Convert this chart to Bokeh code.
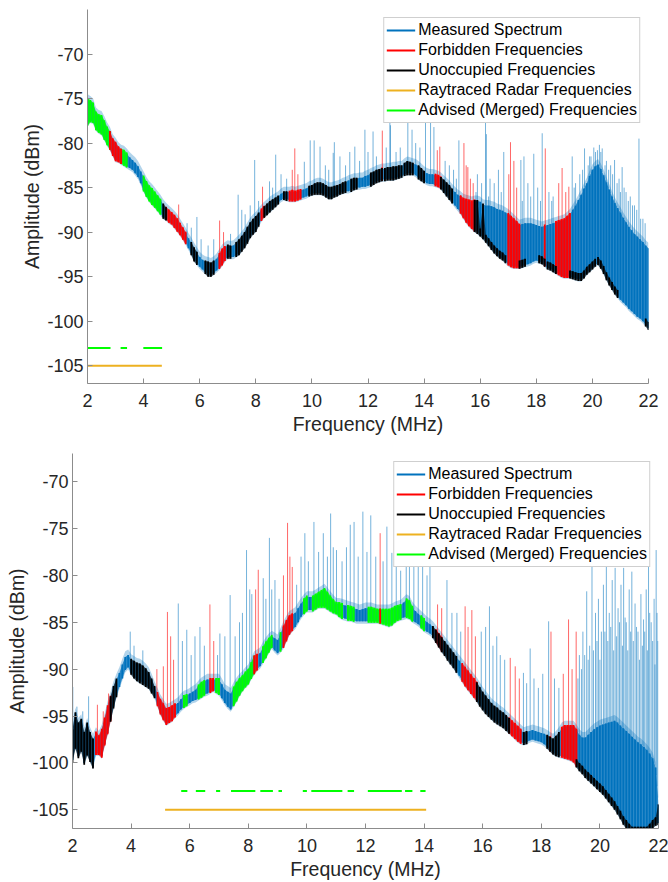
import numpy as np
from bokeh.plotting import figure
from bokeh.models import Range1d, Legend, LegendItem, PrintfTickFormatter
from bokeh.embed import file_html
from bokeh.resources import INLINE

# ---------------- data ----------------
FREQ = [round(2.0 + 0.1 * i, 1) for i in range(201)]   # MHz sampling grid 2.0 .. 22.0
X_TICKS = [2, 4, 6, 8, 10, 12, 14, 16, 18, 20, 22]
Y_TICKS = [-105, -100, -95, -90, -85, -80, -75, -70]

# --- top panel: upper / lower edge of the dense measured band (dBm)
TOP_HI = [
    -75.1, -75.3, -75.6, -76.6, -76.9, -77.0, -77.6, -78.3, -78.8, -79.6,
    -80.0, -80.5, -80.8, -80.9, -81.2, -81.6, -81.9, -82.2, -82.6, -83.2,
    -83.8, -84.4, -84.9, -85.2, -85.6, -86.0, -86.4, -86.9, -87.3, -87.6,
    -87.9, -88.2, -88.6, -89.1, -89.6, -90.1, -90.7, -91.2, -91.8, -92.3,
    -92.8, -93.1, -93.3, -93.4, -93.5, -93.3, -93.0, -92.5, -92.0, -91.7,
    -91.5, -91.6, -91.5, -91.2, -90.9, -90.5, -90.1, -89.5, -89.0, -88.6,
    -88.3, -87.9, -87.5, -87.2, -86.9, -86.6, -86.4, -86.2, -86.0, -85.7,
    -85.5, -85.5, -85.5, -85.4, -85.5, -85.4, -85.3, -85.2, -85.1, -84.9,
    -84.8, -84.6, -84.5, -84.5, -84.6, -84.8, -85.0, -85.0, -84.9, -84.8,
    -84.7, -84.5, -84.4, -84.2, -84.1, -84.0, -84.0, -83.9, -83.9, -83.7,
    -83.6, -83.4, -83.3, -83.1, -83.0, -82.9, -82.9, -82.8, -82.8, -82.7,
    -82.7, -82.6, -82.6, -82.3, -82.1, -82.2, -82.3, -82.4, -82.6, -82.9,
    -83.2, -83.4, -83.5, -83.5, -83.6, -83.7, -83.9, -84.2, -84.5, -84.8,
    -85.2, -85.5, -85.8, -86.0, -86.3, -86.4, -86.5, -86.6, -86.5, -86.5,
    -86.6, -86.9, -87.0, -87.0, -87.1, -87.2, -87.4, -87.5, -87.6, -87.8,
    -88.0, -88.3, -88.6, -88.9, -89.2, -89.1, -89.0, -89.0, -89.0, -89.1,
    -89.2, -89.3, -89.4, -89.3, -89.2, -89.1, -89.0, -88.9, -88.8, -88.7,
    -88.6, -88.3, -88.0, -87.5, -87.0, -86.4, -85.8, -85.1, -84.5, -83.7,
    -83.0, -82.6, -82.4, -82.9, -83.6, -84.4, -85.2, -86.0, -86.7, -87.3,
    -87.8, -88.4, -88.9, -89.4, -89.8, -90.2, -90.5, -90.8, -91.1, -91.5,
    -91.8]
TOP_LO = [
    -77.9, -77.5, -77.6, -78.4, -78.7, -78.9, -79.5, -80.1, -80.6, -81.3,
    -81.9, -82.0, -82.2, -82.4, -82.6, -82.8, -83.0, -83.4, -83.8, -84.5,
    -85.3, -85.9, -86.4, -86.8, -87.1, -87.5, -87.9, -88.3, -88.5, -88.8,
    -89.0, -89.4, -89.8, -90.2, -90.7, -91.2, -91.8, -92.4, -93.1, -93.5,
    -93.9, -94.2, -94.5, -94.8, -94.8, -94.6, -94.3, -94.0, -93.6, -93.1,
    -92.8, -92.8, -92.8, -92.6, -92.4, -92.0, -91.6, -91.1, -90.5, -90.1,
    -89.8, -89.2, -88.6, -88.2, -87.9, -87.6, -87.3, -87.0, -86.7, -86.4,
    -86.2, -86.3, -86.4, -86.4, -86.4, -86.3, -86.2, -86.1, -86.0, -85.8,
    -85.7, -85.6, -85.6, -85.6, -85.7, -85.9, -86.1, -86.1, -85.9, -85.8,
    -85.6, -85.5, -85.4, -85.4, -85.3, -85.1, -85.0, -85.0, -84.9, -84.9,
    -84.8, -84.7, -84.5, -84.3, -84.2, -84.1, -84.1, -84.0, -84.0, -84.0,
    -83.9, -83.8, -83.7, -83.5, -83.4, -83.4, -83.4, -83.6, -83.9, -84.1,
    -84.3, -84.5, -84.6, -84.6, -84.7, -84.8, -85.0, -85.4, -85.8, -86.2,
    -86.6, -87.0, -87.4, -87.8, -88.3, -88.8, -89.2, -89.5, -89.8, -90.0,
    -90.3, -90.6, -91.0, -91.4, -91.8, -92.2, -92.5, -92.8, -93.0, -93.3,
    -93.6, -93.8, -93.9, -93.9, -93.9, -93.8, -93.7, -93.6, -93.5, -93.3,
    -93.2, -93.3, -93.4, -93.7, -94.0, -94.1, -94.3, -94.5, -94.7, -94.9,
    -95.0, -95.0, -95.0, -95.1, -95.2, -95.3, -95.3, -95.0, -94.6, -94.3,
    -94.0, -93.7, -93.5, -93.9, -94.5, -95.2, -95.8, -96.3, -96.8, -97.2,
    -97.6, -97.9, -98.2, -98.6, -98.9, -99.2, -99.5, -99.7, -100.0, -100.4,
    -100.8]
TOP_SPIKE_F = [
    2.0, 5.25, 5.55, 5.7, 5.9, 6.05, 6.3, 6.5, 6.71, 6.85, 7.1, 7.37, 7.5, 7.62,
    7.8, 7.96, 8.1, 8.24, 8.49, 8.6, 8.71, 8.9, 9.1, 9.3, 9.39, 9.5, 9.73, 9.94,
    10.08, 10.29, 10.48, 10.6, 10.76, 10.8, 11.0, 11.2, 11.35, 11.53, 11.7, 11.89,
    12.0, 12.18, 12.3, 12.51, 12.65, 12.78, 12.8, 13.0, 13.15, 13.42, 13.57, 13.7,
    13.85, 14.05, 14.23, 14.35, 14.47, 14.56, 14.75, 14.9, 15.05, 15.24, 15.42,
    15.5, 15.56, 15.65, 15.75, 15.9, 16.05, 16.19, 16.22, 16.35, 16.5, 16.65,
    16.84, 17.02, 17.08, 17.2, 17.3, 17.45, 17.56, 17.7, 17.91, 18.05, 18.21,
    18.32, 18.45, 18.6, 18.8, 18.92, 19.05, 19.16, 19.28, 19.4, 19.55, 19.72,
    19.85, 19.95, 20.11, 20.25, 20.35, 20.5, 20.65, 20.79, 20.95, 21.06, 21.2,
    21.35, 21.5, 21.66, 21.8,
    15.15, 15.85, 16.3, 16.75, 17.5, 17.8, 18.15, 18.55, 19.35, 19.65, 19.9,
    20.05, 20.18, 20.3, 20.45, 20.58, 20.72, 20.88, 21.0, 21.13, 21.28, 21.43,
    21.58, 21.72, 21.88]
TOP_SPIKE_TOP = [
    -74.6, -86.9, -89.0, -89.5, -88.3, -90.8, -91.5, -90.8, -88.7, -90.0, -90.2,
    -85.8, -87.5, -88.0, -87.0, -81.9, -86.5, -84.9, -84.3, -85.0, -81.3, -83.5,
    -84.0, -83.0, -80.6, -83.5, -82.1, -79.7, -79.7, -80.4, -82.5, -83.0, -81.1,
    -79.9, -81.5, -82.5, -81.0, -80.4, -82.0, -78.5, -81.0, -78.7, -81.5, -78.6,
    -80.5, -76.7, -78.0, -81.0, -80.5, -77.4, -78.5, -80.0, -80.5, -77.4, -77.4,
    -78.2, -80.8, -80.4, -82.0, -82.5, -83.0, -79.7, -80.0, -82.5, -82.7, -84.0,
    -84.5, -83.5, -84.5, -77.4, -79.0, -84.0, -84.5, -83.0, -81.0, -83.5, -79.9,
    -82.0, -85.0, -81.9, -81.5, -84.5, -81.2, -85.0, -78.9, -80.6, -85.5, -86.0,
    -84.5, -82.8, -85.5, -84.9, -81.5, -84.5, -83.5, -80.6, -82.5, -81.5, -81.0,
    -80.2, -80.6, -82.0, -82.5, -81.9, -84.0, -82.7, -85.5, -86.0, -87.0, -79.5,
    -88.5,
    -84.0, -85.5, -86.0, -85.5, -86.5, -86.0, -86.5, -86.5, -85.0, -83.0, -81.5,
    -80.5, -80.8, -81.0, -82.5, -83.0, -83.5, -84.5, -85.5, -85.0, -86.5, -87.0,
    -87.5, -88.5, -89.0]
TOP_FORBIDDEN = [(2.8, 3.2), (4.8, 5.5), (6.7, 6.9), (8.2, 8.3), (9.2, 9.6),
                 (12.48, 12.55), (14.4, 14.6), (15.3, 15.8), (17.0, 17.4),
                 (18.28, 18.36), (18.7, 19.2)]
TOP_UNOCCUPIED = [(4.7, 4.8), (5.7, 5.9), (6.2, 6.5), (7.0, 7.1), (7.3, 8.1),
                  (8.3, 8.8), (9.0, 9.1), (9.9, 11.2), (11.4, 11.6), (12.1, 12.5),
                  (12.6, 13.2), (13.3, 13.6), (13.8, 14.0), (14.6, 15.0),
                  (15.8, 16.9), (17.4, 17.6), (18.1, 18.3), (18.4, 18.7),
                  (19.2, 20.1), (20.2, 20.9), (21.9, 22.0)]
TOP_ADVISED = [(2.0, 2.82), (3.18, 3.41), (3.99, 4.66)]
TOP_RADAR = [(2.0, 4.65)]

# --- bottom panel
BOT_HI = [
    -96.5, -94.7, -95.8, -95.4, -96.8, -95.8, -96.8, -97.5, -96.8, -97.2,
    -96.5, -95.3, -94.0, -93.0, -91.9, -91.1, -90.4, -89.5, -88.7, -88.5,
    -89.0, -89.2, -89.4, -89.5, -89.7, -90.0, -90.4, -91.1, -91.9, -92.6,
    -93.3, -93.8, -94.3, -94.2, -94.0, -93.8, -93.6, -93.2, -92.9, -92.8,
    -92.6, -92.4, -92.2, -91.8, -91.5, -91.3, -91.1, -91.1, -91.1, -91.1,
    -91.1, -91.6, -92.2, -92.4, -92.6, -92.0, -91.5, -91.1, -90.8, -90.4,
    -90.1, -89.4, -88.7, -88.5, -88.3, -87.7, -87.2, -86.8, -86.5, -86.7,
    -86.9, -86.2, -85.5, -84.9, -84.4, -84.2, -84.0, -83.5, -83.0, -82.6,
    -82.3, -82.3, -82.3, -82.1, -81.9, -81.7, -81.5, -81.9, -82.3, -82.7,
    -83.0, -83.0, -83.1, -83.2, -83.3, -83.4, -83.5, -83.6, -83.7, -83.6,
    -83.5, -83.5, -83.5, -83.6, -83.7, -83.7, -83.7, -83.7, -83.7, -83.6,
    -83.4, -83.3, -83.2, -82.9, -82.6, -82.8, -83.4, -83.8, -84.1, -84.4,
    -84.7, -85.0, -85.2, -85.5, -85.9, -86.3, -86.7, -87.1, -87.5, -87.9,
    -88.3, -88.7, -89.1, -89.5, -89.9, -90.3, -90.7, -91.1, -91.5, -92.0,
    -92.5, -92.9, -93.3, -93.7, -94.0, -94.2, -94.5, -94.7, -95.0, -95.3,
    -95.6, -95.9, -96.2, -96.5, -96.8, -96.7, -96.6, -96.5, -96.6, -96.7,
    -96.8, -96.9, -97.1, -97.3, -97.5, -97.2, -96.8, -96.3, -96.1, -96.1,
    -96.1, -96.1, -96.5, -97.0, -97.3, -97.3, -97.0, -96.7, -96.4, -96.2,
    -96.0, -95.9, -95.8, -95.7, -95.6, -95.5, -95.7, -96.0, -96.3, -96.6,
    -96.9, -97.2, -97.5, -97.8, -98.0, -98.3, -98.6, -99.0, -99.5, -100.5,
    -104.5]
BOT_LO = [
    -99.7, -98.3, -99.3, -98.6, -100.0, -99.0, -99.7, -100.4, -99.0, -99.0,
    -99.3, -98.0, -96.8, -95.4, -94.0, -92.8, -91.9, -91.0, -90.1, -89.8,
    -90.4, -90.8, -91.1, -91.3, -91.5, -91.7, -91.9, -92.4, -92.9, -93.8,
    -94.7, -95.3, -95.8, -95.6, -95.4, -95.0, -94.7, -94.3, -94.0, -93.8,
    -93.6, -93.4, -93.3, -93.1, -92.9, -92.7, -92.6, -92.4, -92.2, -92.4,
    -92.6, -93.1, -93.6, -94.0, -94.3, -93.8, -93.3, -92.7, -92.2, -91.8,
    -91.5, -90.9, -90.4, -90.0, -89.7, -89.2, -88.7, -88.1, -87.6, -88.0,
    -88.3, -88.0, -87.6, -86.9, -86.2, -85.8, -85.5, -85.0, -84.4, -84.0,
    -83.7, -83.7, -83.7, -83.5, -83.3, -83.3, -83.3, -83.5, -83.7, -83.9,
    -84.0, -84.3, -84.5, -84.6, -84.7, -84.7, -84.8, -84.9, -84.9, -84.9,
    -84.9, -84.9, -84.9, -84.9, -84.9, -85.0, -85.1, -85.2, -85.3, -85.2,
    -84.9, -84.7, -84.6, -84.5, -84.4, -84.5, -84.8, -85.0, -85.2, -85.5,
    -85.8, -86.0, -86.2, -86.5, -87.0, -87.5, -88.0, -88.4, -88.9, -89.3,
    -89.7, -90.2, -90.7, -91.2, -91.7, -92.1, -92.5, -92.9, -93.3, -93.8,
    -94.2, -94.6, -94.9, -95.2, -95.5, -95.7, -95.9, -96.1, -96.4, -96.7,
    -97.0, -97.3, -97.6, -97.8, -97.9, -97.8, -97.6, -97.5, -97.6, -97.7,
    -97.8, -98.0, -98.3, -98.6, -98.9, -99.1, -99.2, -99.3, -99.4, -99.5,
    -99.6, -99.8, -100.3, -100.7, -101.0, -101.4, -101.7, -102.0, -102.3, -102.6,
    -102.9, -103.2, -103.6, -104.0, -104.4, -104.8, -105.3, -105.8, -106.4, -106.8,
    -107.2, -107.5, -107.5, -107.5, -107.5, -107.5, -107.5, -107.2, -106.8, -106.5,
    -106.4]
BOT_SPIKE_F = [
    2.01, 2.15, 2.35, 2.55, 2.85, 3.05, 3.23, 3.97, 4.1, 4.4, 4.88, 5.1, 5.24,
    5.35, 5.45, 5.61, 5.75, 5.9, 6.05, 6.18, 6.35, 6.5, 6.69, 6.82, 6.95, 7.03,
    7.2, 7.38, 7.55, 7.7, 7.8, 7.94, 8.05, 8.12, 8.25, 8.34, 8.51, 8.6, 8.72, 8.8,
    8.91, 9.05, 9.2, 9.34, 9.42, 9.5, 9.65, 9.8, 9.93, 10.05, 10.24, 10.4, 10.56,
    10.7, 10.81, 10.9, 11.01, 11.2, 11.35, 11.48, 11.61, 11.75, 11.91, 12.05,
    12.18, 12.35, 12.5, 12.6, 12.73, 12.9, 13.05, 13.2, 13.39, 13.5, 13.65, 13.8,
    13.95, 14.1, 14.2, 14.46, 14.6, 14.78, 14.95, 15.12, 15.25, 15.4, 15.5, 15.63,
    15.75, 15.95, 16.1, 16.23, 16.35, 16.48, 16.6, 16.75, 16.94, 17.11, 17.25,
    17.39, 17.5, 17.62, 17.75, 17.9, 18.05, 18.25, 18.33, 18.45, 18.6, 18.75,
    18.93, 19.05, 19.19, 19.3, 19.42, 19.55, 19.65, 19.73, 19.85, 19.95, 20.05,
    20.12, 20.22, 20.32, 20.42, 20.52, 20.62, 20.72, 20.81, 20.9, 21.0, 21.09,
    21.2, 21.3, 21.4, 21.49, 21.58, 21.66, 21.75, 21.85, 21.92, 21.98,
    19.25, 19.37, 19.48, 19.6, 19.78, 19.9, 20.0, 20.17, 20.27, 20.37, 20.47,
    20.57, 20.67, 20.77, 20.86, 20.95, 21.05, 21.14, 21.25, 21.35, 21.45, 21.53,
    21.62, 21.7, 21.8, 21.88, 21.95]
BOT_SPIKE_TOP = [
    -91.9, -94.0, -94.5, -92.9, -93.8, -94.5, -92.6, -86.0, -87.5, -88.0, -90.0,
    -89.7, -83.9, -86.5, -89.0, -83.0, -87.0, -85.8, -88.5, -86.5, -85.5, -87.5,
    -83.1, -87.0, -88.5, -86.2, -86.5, -82.1, -86.5, -85.0, -84.0, -77.3, -81.5,
    -82.0, -81.5, -79.4, -80.3, -82.5, -76.0, -81.5, -80.5, -82.5, -80.0, -74.4,
    -78.0, -79.1, -81.0, -78.0, -75.5, -78.5, -74.3, -77.5, -75.5, -78.0, -73.4,
    -77.0, -77.3, -78.5, -77.0, -74.6, -74.3, -78.0, -73.2, -77.5, -73.6, -78.0,
    -75.5, -78.5, -74.8, -77.6, -79.0, -79.5, -78.4, -76.5, -78.0, -77.0, -76.0,
    -80.0, -79.0, -83.1, -83.5, -80.5, -84.0, -84.0, -86.0, -83.3, -85.5, -83.7,
    -86.5, -86.0, -85.5, -83.3, -87.5, -86.5, -88.5, -89.0, -88.8, -89.7, -91.0,
    -90.4, -91.5, -87.8, -91.0, -92.0, -90.5, -84.9, -86.0, -91.0, -92.0, -90.5,
    -84.7, -90.0, -86.0, -88.5, -86.0, -81.7, -87.5, -79.1, -84.0, -82.5, -86.0,
    -81.0, -77.8, -84.0, -80.5, -79.2, -83.5, -81.0, -79.2, -85.0, -81.5, -79.6,
    -83.0, -86.0, -82.0, -84.7, -81.5, -79.1, -85.0, -82.5, -77.3, -87.0,
    -91.0, -90.0, -88.5, -89.0, -88.0, -87.0, -89.0, -86.0, -87.0, -85.5, -88.0,
    -86.5, -85.0, -87.5, -84.5, -88.0, -86.0, -87.0, -85.5, -89.0, -87.5, -86.0,
    -88.0, -84.0, -87.0, -89.5, -84.0]
BOT_FORBIDDEN = [(2.75, 3.3), (4.85, 5.5), (6.65, 6.85), (8.15, 8.35), (9.15, 9.5),
                 (12.48, 12.52), (14.4, 14.65), (15.3, 15.8), (16.9, 17.35),
                 (18.3, 18.36), (18.65, 19.2)]
BOT_UNOCCUPIED = [(2.0, 2.75), (3.3, 3.5), (4.0, 4.8), (14.3, 15.1), (15.8, 16.9),
                  (17.35, 17.5), (18.2, 18.6), (19.2, 22.0)]
BOT_ADVISED = [(5.71, 5.92), (6.21, 6.53), (6.9, 7.04), (7.41, 8.24), (8.41, 8.84),
               (9.03, 9.15), (9.86, 10.0), (10.15, 11.21), (11.39, 11.61),
               (12.08, 13.24), (13.35, 13.6), (13.87, 14.05)]
BOT_RADAR = [(5.16, 14.07)]

ADVISED_LEVEL = -103.0
RADAR_LEVEL = -105.0

LEGEND_LABELS = ["Measured Spectrum", "Forbidden Frequencies", "Unoccupied Frequencies",
                 "Raytraced Radar Frequencies", "Advised (Merged) Frequencies"]

# ---------------- styling ----------------
BLUE = "#0072BD"
RED = "#FF0000"
BLACK = "#000000"
ORANGE = "#EDB120"
GREEN = "#00FF00"
FONT = "Liberation Sans"
AXIS_GRAY = "#8c8c8c"
TEXT = "#262626"
STROKE = 1.8


def range_mask(f, a, b):
    return (f >= a - 1e-6) & (f <= b + 1e-6)


def union_mask(f, ranges):
    m = np.zeros(len(f), bool)
    for a, b in ranges:
        m |= range_mask(f, a, b)
    return m


def make_panel(hi, lo, sf, stop, forbidden, unoccupied, advised, radar, yr,
               height, borders):
    f = np.array(FREQ)
    hi = np.array(hi)
    lo = np.array(lo)
    sf = np.array(sf)
    stop = np.array(stop)
    bl, br, bt, bb = borders
    p = figure(width=668, height=height, output_backend="svg", toolbar_location=None,
               x_range=Range1d(2, 22), y_range=Range1d(*yr),
               min_border_left=bl, min_border_right=br, min_border_top=bt,
               min_border_bottom=bb)
    p.outline_line_color = None
    p.grid.visible = False
    p.background_fill_color = "white"

    # thin spikes above the band
    red_spk = union_mask(sf, forbidden)
    base = np.interp(sf, f, hi)
    p.segment(x0=sf[~red_spk], y0=base[~red_spk], x1=sf[~red_spk], y1=stop[~red_spk],
              line_color=BLUE, line_alpha=0.55, line_width=1)

    # measured band
    p.varea(x=f, y1=lo - 0.25, y2=hi + 0.6, fill_color=BLUE, fill_alpha=0.3)
    p.varea(x=f, y1=lo, y2=hi, fill_color=BLUE, fill_alpha=0.75)
    r_blue = p.segment(x0=f, x1=f, y0=lo, y1=hi, line_color=BLUE, line_width=STROKE)

    # advised (green)
    m = union_mask(f, advised)
    for a, b in advised:
        mm = range_mask(f, a, b)
        if mm.sum() >= 2:
            p.varea(x=f[mm], y1=lo[mm] - 0.15, y2=hi[mm] + 0.15, fill_color=GREEN,
                    fill_alpha=0.75)
    p.segment(x0=f[m], x1=f[m], y0=lo[m] - 0.15, y1=hi[m] + 0.15, line_color=GREEN,
              line_width=STROKE)

    # forbidden (red)
    m = union_mask(f, forbidden)
    for a, b in forbidden:
        mm = range_mask(f, a, b)
        if mm.sum() >= 2:
            p.varea(x=f[mm], y1=lo[mm] - 0.15, y2=hi[mm] + 0.15, fill_color=RED,
                    fill_alpha=0.7)
    r_red = p.segment(x0=f[m], x1=f[m], y0=lo[m] - 0.15, y1=hi[m] + 0.15,
                      line_color=RED, line_width=STROKE)
    p.segment(x0=sf[red_spk], y0=base[red_spk], x1=sf[red_spk], y1=stop[red_spk],
              line_color=RED, line_alpha=0.6, line_width=1)

    # unoccupied (black): the whole band where it is narrow, only its floor where
    # the band is filled with dense carriers
    m = union_mask(f, unoccupied)
    top_b = np.where(hi - lo <= 3.7, hi + 0.1, lo + 0.7)
    for a, b in unoccupied:
        mm = range_mask(f, a, b)
        if mm.sum() >= 2:
            p.varea(x=f[mm], y1=lo[mm] - 0.2, y2=top_b[mm], fill_color=BLACK,
                    fill_alpha=0.6)
    r_black = p.segment(x0=f[m], x1=f[m], y0=lo[m] - 0.2, y1=top_b[m],
                        line_color=BLACK, line_width=STROKE)

    # radar + advised interval lines
    r_radar = p.segment(x0=[r[0] for r in radar], x1=[r[1] for r in radar],
                        y0=[RADAR_LEVEL] * len(radar), y1=[RADAR_LEVEL] * len(radar),
                        line_color=ORANGE, line_width=2)
    r_adv = p.segment(x0=[r[0] for r in advised], x1=[r[1] for r in advised],
                      y0=[ADVISED_LEVEL] * len(advised),
                      y1=[ADVISED_LEVEL] * len(advised),
                      line_color=GREEN, line_width=2)

    items = [LegendItem(label=lab, renderers=[r]) for lab, r in
             zip(LEGEND_LABELS, [r_blue, r_red, r_black, r_radar, r_adv])]
    leg = Legend(items=items, location="top_right", margin=8, padding=2, spacing=0,
                 label_height=20, glyph_height=20, glyph_width=29, label_standoff=3,
                 label_text_font=FONT, label_text_font_size="16px",
                 label_text_color="#000000", border_line_color="#a0a0a0",
                 border_line_width=1, background_fill_color="white",
                 background_fill_alpha=1.0)
    p.add_layout(leg)

    # axes
    for ax in (p.xaxis[0], p.yaxis[0]):
        ax.axis_line_color = AXIS_GRAY
        ax.major_tick_line_color = AXIS_GRAY
        ax.major_tick_in = 5
        ax.major_tick_out = 0
        ax.minor_tick_line_color = None
        ax.major_label_text_font = FONT
        ax.major_label_text_font_size = "18px"
        ax.major_label_text_color = TEXT
        ax.axis_label_text_font = FONT
        ax.axis_label_text_font_size = "19.5px"
        ax.axis_label_text_font_style = "normal"
        ax.axis_label_text_color = TEXT
        ax.formatter = PrintfTickFormatter(format="%d")
    p.xaxis.ticker = X_TICKS
    p.yaxis.ticker = Y_TICKS
    p.xaxis.axis_label = "Frequency (MHz)"
    p.yaxis.axis_label = "Amplitude (dBm)"
    p.xaxis.major_label_standoff = 10
    p.xaxis.axis_label_standoff = 3
    p.yaxis.major_label_standoff = 4
    p.yaxis.axis_label_standoff = 1
    return p


p1 = make_panel(TOP_HI, TOP_LO, TOP_SPIKE_F, TOP_SPIKE_TOP, TOP_FORBIDDEN,
                TOP_UNOCCUPIED, TOP_ADVISED, TOP_RADAR, (-107, -65), 440,
                (87, 20, 9, 57))
p2 = make_panel(BOT_HI, BOT_LO, BOT_SPIKE_F, BOT_SPIKE_TOP, BOT_FORBIDDEN,
                BOT_UNOCCUPIED, BOT_ADVISED, BOT_RADAR, (-107, -67), 442,
                (72, 10, 13, 54))

# two independent roots so that the frames are not aligned to each other
open("out.html", "w").write(file_html([p1, p2], INLINE))
